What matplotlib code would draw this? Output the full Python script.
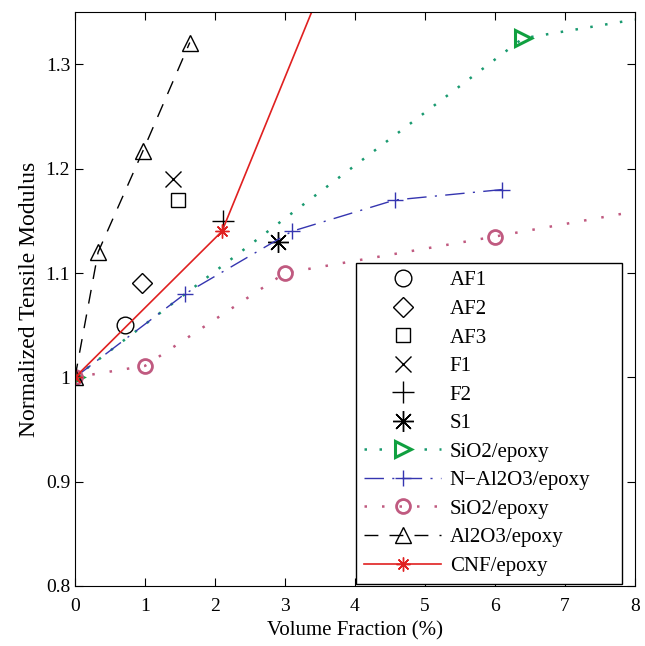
import matplotlib
matplotlib.use("Agg")
import matplotlib.pyplot as plt

plt.rcParams["font.family"] = ["Liberation Serif", "DejaVu Serif"]
plt.rcParams["font.size"] = 12

# single points
af1 = (0.71, 1.05)
af2 = (0.96, 1.09)
af3 = (1.47, 1.17)
f1 = (1.40, 1.19)
f2 = (2.11, 1.15)
s1 = (2.90, 1.13)

# series
sio2_a_x = [0, 6.4, 8.0]
sio2_a_y = [1.0, 1.325, 1.343]
nal_x = [0, 1.57, 3.1, 4.57, 6.1]
nal_y = [1.0, 1.08, 1.14, 1.17, 1.18]
sio2_b_x = [0, 1.0, 3.0, 6.0, 8.0]
sio2_b_y = [1.0, 1.011, 1.10, 1.135, 1.159]
al_x = [0, 0.33, 0.97, 1.64]
al_y = [1.0, 1.12, 1.217, 1.321]
cnf_x = [0, 2.1, 3.38]
cnf_y = [1.0, 1.14, 1.35]

asterisk = (8, 2, 0)

fig = plt.figure(figsize=(6.45, 6.46), dpi=100)
ax = fig.add_axes([0.1163, 0.093, 0.868, 0.888])

ms = 12
ax.plot(*af1, "o", mfc="none", mec="k", ms=ms, mew=1, label="AF1")
ax.plot(*af2, "D", mfc="none", mec="k", ms=10, mew=1, label="AF2")
ax.plot(*af3, "s", mfc="none", mec="k", ms=10, mew=1, label="AF3")
ax.plot(*f1, "x", color="k", ms=ms, mew=1, label="F1")
ax.plot(*f2, "+", color="k", ms=16, mew=1, label="F2")
ax.plot(*s1, marker=asterisk, ls="none", color="k", ms=15, mew=1, label="S1")

ax.plot(sio2_a_x, sio2_a_y, ls=(0, (1, 5)), lw=1.8, color="#1a9a70",
        marker=">", mfc="none", mec="#10a040", ms=11, mew=2.2,
        markevery=[0, 1], label="SiO2/epoxy")
ax.plot(nal_x, nal_y, ls=(0, (14, 6, 1.5, 6)), lw=1, color="#3535b0",
        marker="+", ms=12, mew=1, label="N\u2212Al2O3/epoxy")
ax.plot(sio2_b_x, sio2_b_y, ls=(0, (1, 6)), lw=1.8, color="#c05a80",
        marker="o", mfc="none", mec="#c05a80", ms=10, mew=2,
        markevery=[0, 1, 2, 3], label="SiO2/epoxy")
ax.plot(al_x, al_y, ls=(0, (10, 8)), lw=1, color="k",
        marker="^", mfc="none", mec="k", ms=11, mew=1, label="Al2O3/epoxy")
ax.plot(cnf_x, cnf_y, "-", lw=1.2, color="#e02020",
        marker=asterisk, ms=10, mew=1, markevery=[0, 1], label="CNF/epoxy")

ax.set_xlim(0, 8)
ax.set_ylim(0.8, 1.35)
ax.set_xticks(range(0, 9))
ax.set_yticks([0.8, 0.9, 1.0, 1.1, 1.2, 1.3])
ax.set_yticklabels(["0.8", "0.9", "1", "1.1", "1.2", "1.3"])
ax.tick_params(direction="in", top=True, right=True, length=6, labelsize=14)
ax.tick_params(axis="x", pad=9)
ax.set_xlabel("Volume Fraction (%)", fontsize=15, labelpad=4)
ax.set_ylabel("Normalized Tensile Modulus", fontsize=17, labelpad=4)

ax.legend(loc="lower left", bbox_to_anchor=(0.502, 0.003, 0.475, 0.563),
          mode="expand", fontsize=15, handlelength=3.7, labelspacing=0.43,
          fancybox=False, edgecolor="k", framealpha=1, borderaxespad=0,
          handletextpad=0.4, borderpad=0.4)

fig.savefig("out.png", dpi=100)
